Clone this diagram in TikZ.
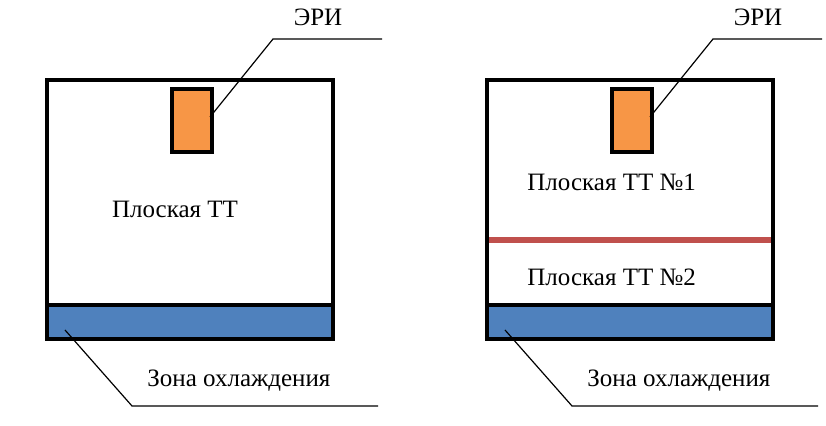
\documentclass[tikz,border=0pt]{standalone}
\usepackage{fontspec}
\setmainfont{Liberation Serif}
\definecolor{eriorange}{HTML}{F79646}
\definecolor{coolblue}{HTML}{4F81BD}
\definecolor{sepred}{HTML}{C0504D}
\begin{document}
\begin{tikzpicture}[x=0.5pt,y=-0.5pt,
  frame/.style={draw=black,line width=2pt},
  eri/.style={draw=black,line width=2pt,fill=eriorange},
  cool/.style={fill=coolblue},
  leader/.style={draw=black,line width=0.6pt},
  lbl/.style={font=\fontsize{12.5}{14}\selectfont,inner sep=0pt}]
\useasboundingbox (0,0) rectangle (826,426);
\foreach \ox/\nm in {0/L,440/R}{
  \begin{scope}[xshift=\ox*0.5pt]
  \fill[cool] (47,305) rectangle (333,339);
  \draw[frame] (47,305) -- (333,305);
  \draw[frame] (47,80) rectangle (333,339);
  \node[eri,minimum width=20pt,minimum height=31.5pt,inner sep=0pt,anchor=north west] (eri\nm) at (170,87) {};
  \coordinate (eriA\nm) at (210,117);
  \coordinate (eriB\nm) at (273,39);
  \coordinate (eriC\nm) at (382,39);
  \draw[leader] (eriA\nm) -- (eriB\nm) -- (eriC\nm);
  \node[lbl] (eriT\nm) at (318,17) {ЭРИ};
  \coordinate (zA\nm) at (65,330);
  \coordinate (zB\nm) at (132,406);
  \coordinate (zC\nm) at (378,406);
  \draw[leader] (zA\nm) -- (zB\nm) -- (zC\nm);
  \node[lbl,anchor=west] (zT\nm) at (147,381) {Зона охлаждения};
  \end{scope}
}
\node[lbl] (ttL) at (175,209) {Плоская ТТ};
\draw[sepred,line width=2.8pt] (489,240) -- (771,240);
\node[lbl,anchor=west] (tt1) at (527,182) {Плоская ТТ №1};
\node[lbl,anchor=west] (tt2) at (527,277) {Плоская ТТ №2};
\end{tikzpicture}
\end{document}
